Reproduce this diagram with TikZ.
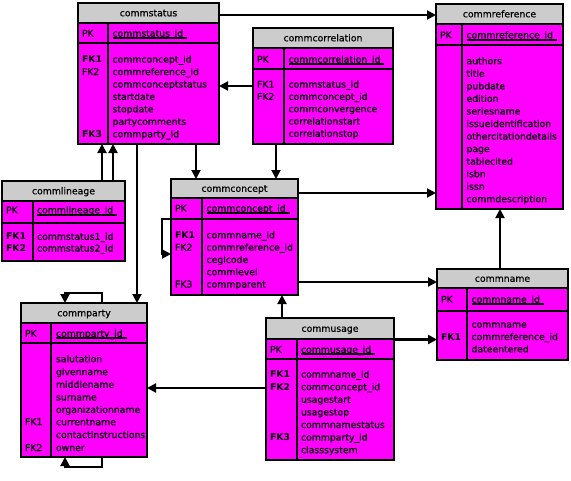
\documentclass[tikz,border=0pt]{standalone}
\usepackage{fontspec}
\setmainfont{DejaVu Sans}
\newfontfamily\tblfont[RawFeature={embolden=0.7}]{DejaVu Sans}
\usetikzlibrary{arrows.meta,fit}
\definecolor{bodyc}{RGB}{255,0,255}
\definecolor{headc}{RGB}{204,204,204}
\newcommand\ertable[9]{%
  \fill[bodyc] (#2,#5) rectangle (#4,#7);
  \fill[headc] (#2,#3) rectangle (#4,#5);
  \draw[tblline] (#2,#3) rectangle (#4,#7);
  \draw[tblline] (#2,#5) -- (#4,#5) (#2,#6) -- (#4,#6) (#8,#5) -- (#8,#7);
  \coordinate (#1-nw) at (#2,#3);
  \coordinate (#1-se) at (#4,#7);
  \node[fit=(#1-nw)(#1-se), inner sep=0pt, outer sep=0pt] (#1) {};
  \node[ttl] (#1-title) at ({(#2+#4)/2},{(#3+#5)/2+3.3}) {#9};
}
\newcommand\pkrow[4]{% name, x, y center, text
  \node[txt] (#1) at (#2,#3+3.3) {#4};
  \draw[line width=1.8pt] ([yshift=-1.3pt]#1.base west) -- ([xshift=4pt,yshift=-1.3pt]#1.base east);
}
\newcommand\fl[4]{% name, x, y center, text
  \node[txt] (#1) at (#2,#3+3.3) {#4};
}
\newcommand\flb[4]{% bold label
  \node[txt,font=\fontsize{9.3}{10}\selectfont\bfseries] (#1) at (#2,#3+3.3) {#4};
}
\begin{document}
\begin{tikzpicture}[x=1pt,y=-1pt,
  tblline/.style={line width=1.1pt,black},
  txt/.style={anchor=base west,inner sep=0pt,outer sep=0pt,font=\tblfont\fontsize{9.3}{10}\selectfont},
  ttl/.style={anchor=base,inner sep=0pt,outer sep=0pt,font=\tblfont\fontsize{9.3}{10}\selectfont},
  conn/.style={line width=2pt,-{Triangle[length=9pt,width=9pt]}},
  loopconn/.style={conn,rounded corners=0pt}]
\useasboundingbox (0,0) rectangle (571,480);
\fill[white] (0,0) rectangle (571,480);

% ---------- commstatus ----------
\ertable{status}{78}{3}{219}{23}{43}{144}{108}{commstatus}
\fl{statusPK}{82}{33.3}{PK}
\pkrow{statusid}{112.5}{33.3}{commstatus\_id}
\flb{statusL1}{82}{59.3}{FK1}
\fl{statusL2}{82}{71.75}{FK2}
\flb{statusL3}{82}{134}{FK3}
\fl{statusF1}{112.5}{59.3}{commconcept\_id}
\fl{statusF2}{112.5}{71.75}{commreference\_id}
\fl{statusF3}{112.5}{84.2}{commconceptstatus}
\fl{statusF4}{112.5}{96.65}{startdate}
\fl{statusF5}{112.5}{109.1}{stopdate}
\fl{statusF6}{112.5}{121.55}{partycomments}
\fl{statusF7}{112.5}{134}{commparty\_id}

% ---------- commcorrelation ----------
\ertable{corr}{253}{28}{393}{48}{69}{144}{284}{commcorrelation}
\fl{corrPK}{257}{59.3}{PK}
\pkrow{corrid}{288.5}{59.3}{commcorrelation\_id}
\fl{corrL1}{257}{84.3}{FK1}
\fl{corrL2}{257}{96.6}{FK2}
\fl{corrF1}{288.5}{84.3}{commstatus\_id}
\fl{corrF2}{288.5}{96.6}{commconcept\_id}
\fl{corrF3}{288.5}{108.9}{commconvergence}
\fl{corrF4}{288.5}{121.2}{correlationstart}
\fl{corrF5}{288.5}{133.5}{correlationstop}

% ---------- commreference ----------
\ertable{ref}{436}{4}{563}{24}{45}{209}{462}{commreference}
\fl{refPK}{440}{35}{PK}
\pkrow{refid}{466.5}{35}{commreference\_id}
\fl{refF1}{466.5}{61}{authors}
\fl{refF2}{466.5}{73.5}{title}
\fl{refF3}{466.5}{86.1}{pubdate}
\fl{refF4}{466.5}{98.6}{edition}
\fl{refF5}{466.5}{111.2}{seriesname}
\fl{refF6}{466.5}{123.7}{issueidentification}
\fl{refF7}{466.5}{136.3}{othercitationdetails}
\fl{refF8}{466.5}{148.8}{page}
\fl{refF9}{466.5}{161.4}{tablecited}
\fl{refF10}{466.5}{173.9}{isbn}
\fl{refF11}{466.5}{186.5}{issn}
\fl{refF12}{466.5}{199}{commdescription}

% ---------- commlineage ----------
\ertable{lineage}{2}{181}{125}{201}{223}{261}{33}{commlineage}
\fl{linPK}{6}{210}{PK}
\pkrow{linid}{37}{210}{commlineage\_id}
\flb{linL1}{6}{236.5}{FK1}
\flb{linL2}{6}{248.2}{FK2}
\fl{linF1}{37}{236.5}{commstatus1\_id}
\fl{linF2}{37}{248.2}{commstatus2\_id}

% ---------- commconcept ----------
\ertable{concept}{171}{179}{298}{198}{219}{295}{202}{commconcept}
\fl{conPK}{175}{208.3}{PK}
\pkrow{conid}{206.5}{208.3}{commconcept\_id}
\flb{conL1}{175}{235}{FK1}
\fl{conL2}{175}{247.3}{FK2}
\fl{conL3}{175}{284.2}{FK3}
\fl{conF1}{206.5}{235}{commname\_id}
\fl{conF2}{206.5}{247.3}{commreference\_id}
\fl{conF3}{206.5}{259.6}{ceglcode}
\fl{conF4}{206.5}{271.9}{commlevel}
\fl{conF5}{206.5}{284.2}{commparent}

% ---------- commname ----------
\ertable{name}{437}{269}{568}{288}{311}{360}{467}{commname}
\fl{namePK}{441}{299.3}{PK}
\pkrow{nameid}{471.5}{299.3}{commname\_id}
\flb{nameL1}{441}{336.7}{FK1}
\fl{nameF1}{471.5}{324.3}{commname}
\fl{nameF2}{471.5}{336.7}{commreference\_id}
\fl{nameF3}{471.5}{349.1}{dateentered}

% ---------- commparty ----------
\ertable{party}{21}{303}{147}{323}{343}{457}{51}{commparty}
\fl{partyPK}{25}{333.5}{PK}
\pkrow{partyid}{56}{333.5}{commparty\_id}
\fl{partyL1}{25}{421.7}{FK1}
\fl{partyL2}{25}{447.7}{FK2}
\fl{partyF1}{56}{359}{salutation}
\fl{partyF2}{56}{371.8}{givenname}
\fl{partyF3}{56}{384.5}{middlename}
\fl{partyF4}{56}{397.2}{surname}
\fl{partyF5}{56}{409.6}{organizationname}
\fl{partyF6}{56}{422}{currentname}
\fl{partyF7}{56}{434.8}{contactinstructions}
\fl{partyF8}{56}{447.7}{owner}

% ---------- commusage ----------
\ertable{usage}{266}{318}{394}{339}{359}{460}{297}{commusage}
\fl{usePK}{270}{349.5}{PK}
\pkrow{useid}{301}{349.5}{commusage\_id}
\flb{useL1}{270}{374.3}{FK1}
\flb{useL2}{270}{386.9}{FK2}
\flb{useL3}{270}{437.3}{FK3}
\fl{useF1}{301}{374.3}{commname\_id}
\fl{useF2}{301}{386.9}{commconcept\_id}
\fl{useF3}{301}{399.5}{usagestart}
\fl{useF4}{301}{412.1}{usagestop}
\fl{useF5}{301}{424.7}{commnamestatus}
\fl{useF6}{301}{437.3}{commparty\_id}
\fl{useF7}{301}{449.9}{classsystem}

% ---------- connectors ----------
\draw[conn] (status.east |- 0,15) -- (ref.west |- 0,15);
\draw[conn] (corr.west |- 0,86) -- (status.east |- 0,86);
\draw[conn] (lineage.north -| 102,0) -- (status.south -| 102,0);
\draw[conn] (lineage.north -| 113,0) -- (status.south -| 113,0);
\draw[conn] (status.south -| 137,0) -- (party.north -| 137,0);
\draw[conn] (status.south -| 196,0) -- (concept.north -| 196,0);
\draw[conn] (corr.south -| 276,0) -- (concept.north -| 276,0);
\draw[conn] (concept.east |- 0,193) -- (ref.west |- 0,193);
\draw[loopconn] (concept.west |- 0,219) -- ++(-9,0) |- (concept.west |- 0,254);
\draw[conn] (concept.east |- 0,282) -- (name.west |- 0,282);
\draw[conn] (name.north -| 500,0) -- (ref.south -| 500,0);
\draw[conn] (usage.north -| 282,0) -- (concept.south -| 282,0);
\draw[conn,line width=3pt] (usage.east |- 0,339.5) -- (name.west |- 0,339.5);
\draw[conn] (usage.west |- 0,388) -- (party.east |- 0,388);
\draw[loopconn] (party.north -| 102,0) -- ++(0,-10) -| (party.north -| 65,0);
\draw[loopconn] (party.south -| 102,0) -- ++(0,10) -| (party.south -| 65,0);
\end{tikzpicture}
\end{document}
